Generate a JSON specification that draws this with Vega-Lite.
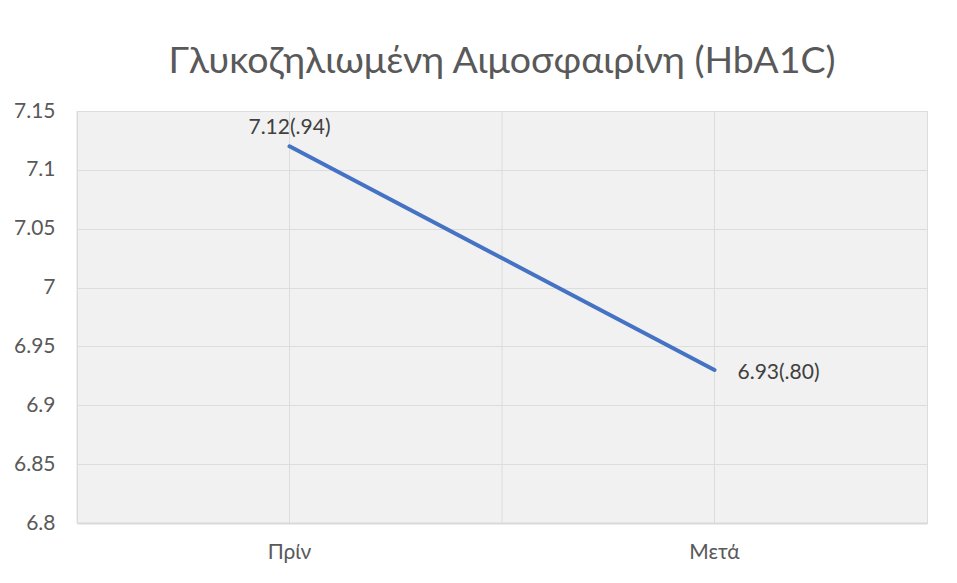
{
  "$schema": "https://vega.github.io/schema/vega-lite/v6.json",
  "autosize": "none",
  "width": 850,
  "height": 412,
  "padding": {"left": 77, "top": 111, "right": 30, "bottom": 60},
  "background": "white",
  "title": {
    "text": "Γλυκοζηλιωμένη Αιμοσφαιρίνη (HbA1C)",
    "fontSize": 37.5,
    "font": "Lato",
    "fontWeight": "normal",
    "color": "#595959",
    "anchor": "middle",
    "offset": 20
  },
  "config": {
    "view": {"fill": "#f1f1f1", "stroke": "#dcdcdc"},
    "axis": {
      "labelFont": "Lato",
      "labelFontSize": 21,
      "labelColor": "#595959",
      "gridColor": "#dcdcdc",
      "gridWidth": 1,
      "ticks": false,
      "domain": false,
      "title": null
    }
  },
  "data": {
    "values": [
      {"phase": "Πρίν", "value": 7.12, "label": "7.12(.94)"},
      {"phase": "Μετά", "value": 6.93, "label": "6.93(.80)"}
    ]
  },
  "encoding": {
    "x": {
      "field": "phase",
      "type": "nominal",
      "sort": null,
      "scale": {"type": "band", "paddingInner": 0, "paddingOuter": 0},
      "axis": {
        "grid": true,
        "bandPosition": 0.5,
        "labelPadding": 18,
        "labelAngle": 0,
        "domain": true,
        "domainColor": "#d9d9d9",
        "domainWidth": 2
      }
    },
    "y": {
      "field": "value",
      "type": "quantitative",
      "scale": {"domain": [6.8, 7.15], "nice": false, "zero": false},
      "axis": {
        "values": [6.8, 6.85, 6.9, 6.95, 7, 7.05, 7.1, 7.15],
        "format": "~g",
        "labelPadding": 22,
        "grid": true
      }
    }
  },
  "layer": [
    {
      "mark": {"type": "rule", "color": "#dcdcdc", "strokeWidth": 1},
      "encoding": {
        "x": {"field": "phase", "type": "nominal", "sort": null, "bandPosition": 0},
        "y": null
      }
    },
    {
      "mark": {"type": "line", "color": "#4472C4", "strokeWidth": 4, "strokeCap": "round"}
    },
    {
      "transform": [{"filter": "datum.phase === 'Πρίν'"}],
      "mark": {"type": "text", "font": "Lato", "fontSize": 21, "color": "#404040", "dy": -18, "baseline": "middle"},
      "encoding": {"text": {"field": "label"}}
    },
    {
      "transform": [{"filter": "datum.phase === 'Μετά'"}],
      "mark": {"type": "text", "font": "Lato", "fontSize": 21, "color": "#404040", "align": "left", "dx": 23, "dy": 3, "baseline": "middle"},
      "encoding": {"text": {"field": "label"}}
    }
  ]
}
